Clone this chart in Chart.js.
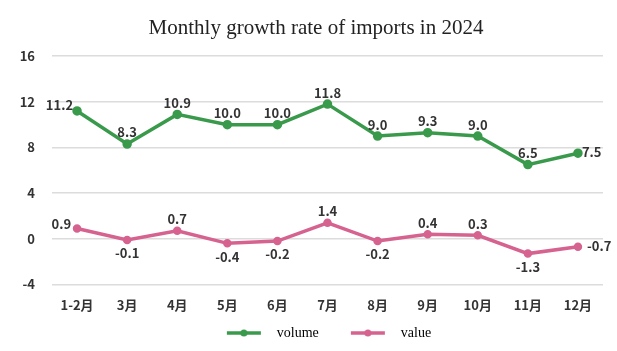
<!DOCTYPE html>
<html>
<head>
<meta charset="utf-8">
<script src="https://cdn.jsdelivr.net/npm/chart.js@4/dist/chart.umd.min.js"></script>
<style>
  html, body { margin: 0; padding: 0; background: #fff; }
  #wrap { width: 617px; height: 351px; position: relative; }
</style>
</head>
<body>
<div id="wrap"><canvas id="c" width="617" height="351"></canvas></div>
<script>
const categories = ['1-2月', '3月', '4月', '5月', '6月', '7月', '8月', '9月', '10月', '11月', '12月'];
const volume = [11.2, 8.3, 10.9, 10.0, 10.0, 11.8, 9.0, 9.3, 9.0, 6.5, 7.5];
const value = [0.9, -0.1, 0.7, -0.4, -0.2, 1.4, -0.2, 0.4, 0.3, -1.3, -0.7];
const yTicks = [-4, 0, 4, 8, 12, 16];

const GREEN = '#3a9a4b';
const PINK = '#d6628f';
const labelFont = 'bold 13px "Noto Sans CJK SC", "Noto Sans", sans-serif';

// Legend swatch: short thick line with a dot in the middle,
// with blank room on the left so items are spaced apart
function swatch(color) {
  const cv = document.createElement('canvas');
  cv.width = 75; cv.height = 10;
  const g = cv.getContext('2d');
  g.strokeStyle = color; g.lineWidth = 3.5;
  g.beginPath(); g.moveTo(32, 5); g.lineTo(66, 5); g.stroke();
  g.fillStyle = color;
  g.beginPath(); g.arc(49, 5, 3.5, 0, Math.PI * 2); g.fill();
  return cv;
}

// Where each value label sits relative to its point
function placement(dsIndex, i, v) {
  const last = categories.length - 1;
  if (i === last) return 'right';
  if (i === 0) return 'left';
  if (dsIndex === 1 && v < 0) return 'below';
  return 'above';
}

const valueLabels = {
  id: 'valueLabels',
  afterDatasetsDraw(chart) {
    const ctx = chart.ctx;
    ctx.save();
    ctx.font = labelFont;
    ctx.fillStyle = '#333';
    chart.data.datasets.forEach((ds, d) => {
      const meta = chart.getDatasetMeta(d);
      meta.data.forEach((pt, i) => {
        const v = ds.data[i];
        const txt = v.toFixed(1);
        const pos = placement(d, i, v);
        let x = pt.x, y = pt.y;
        if (pos === 'above') { ctx.textAlign = 'center'; ctx.textBaseline = 'bottom'; y -= 5; }
        else if (pos === 'below') { ctx.textAlign = 'center'; ctx.textBaseline = 'top'; y += 7; }
        else if (pos === 'left') { ctx.textAlign = 'right'; ctx.textBaseline = 'middle'; x -= (d === 0 ? 4 : 6); y -= (d === 0 ? 6 : 4); }
        else { ctx.textAlign = 'left'; ctx.textBaseline = 'middle'; x += (d === 0 ? 4 : 9); y -= 1; }
        ctx.fillText(txt, x, y);
      });
    });
    ctx.restore();
  }
};

// Shift title and legend so they are centered over the plotted span
const centerBlocks = {
  id: 'centerBlocks',
  afterLayout(chart) {
    if (chart.titleBlock) { chart.titleBlock.left += 13; chart.titleBlock.width -= 13; }
    if (chart.legend) { chart.legend.left += 7; chart.legend.width -= 7; }
  }
};

new Chart(document.getElementById('c'), {
  type: 'line',
  data: {
    labels: categories,
    datasets: [
      { label: 'volume', data: volume, borderColor: GREEN, backgroundColor: GREEN,
        borderWidth: 3.5, pointRadius: 3, pointHoverRadius: 3, tension: 0, pointStyle: 'circle' },
      { label: 'value', data: value, borderColor: PINK, backgroundColor: PINK,
        borderWidth: 3.5, pointRadius: 2.5, pointHoverRadius: 2.5, tension: 0, pointStyle: 'circle' }
    ]
  },
  options: {
    responsive: false,
    animation: false,
    devicePixelRatio: 1,
    layout: { padding: { left: 16, right: 14, top: 0, bottom: 1 } },
    plugins: {
      title: {
        display: true,
        text: 'Monthly growth rate of imports in 2024',
        font: { family: '"Liberation Serif", "Times New Roman", serif', size: 21, weight: 'normal' },
        color: '#222',
        padding: { top: 16, bottom: 15 }
      },
      legend: {
        position: 'bottom',
        labels: {
          usePointStyle: true,
          pointStyleWidth: 75,
          color: '#222',
          font: { family: '"Liberation Serif", "Times New Roman", serif', size: 14 },
          padding: 0,
          generateLabels(chart) {
            return chart.data.datasets.map((ds, i) => ({
              text: ds.label,
              pointStyle: swatch(ds.borderColor),
              fillStyle: ds.borderColor,
              strokeStyle: ds.borderColor,
              lineWidth: 0,
              hidden: false,
              datasetIndex: i
            }));
          }
        }
      },
      tooltip: { enabled: false }
    },
    scales: {
      x: {
        offset: true,
        grid: { display: false, drawTicks: false },
        border: { display: false },
        ticks: { color: '#333', font: { family: '"Noto Sans CJK SC", sans-serif', size: 13, weight: 'bold' }, padding: 13, maxRotation: 0 }
      },
      y: {
        min: -4, max: 16,
        afterBuildTicks(axis) { axis.ticks = yTicks.map(v => ({ value: v })); },
        afterFit(axis) { axis.width = 36; },
        grid: { color: '#dcdcdc', lineWidth: 1.5, drawTicks: false },
        border: { display: false },
        ticks: { color: '#333', font: { family: '"Noto Sans CJK SC", sans-serif', size: 13, weight: 'bold' }, padding: 17 }
      }
    }
  },
  plugins: [valueLabels, centerBlocks]
});
</script>
</body>
</html>
